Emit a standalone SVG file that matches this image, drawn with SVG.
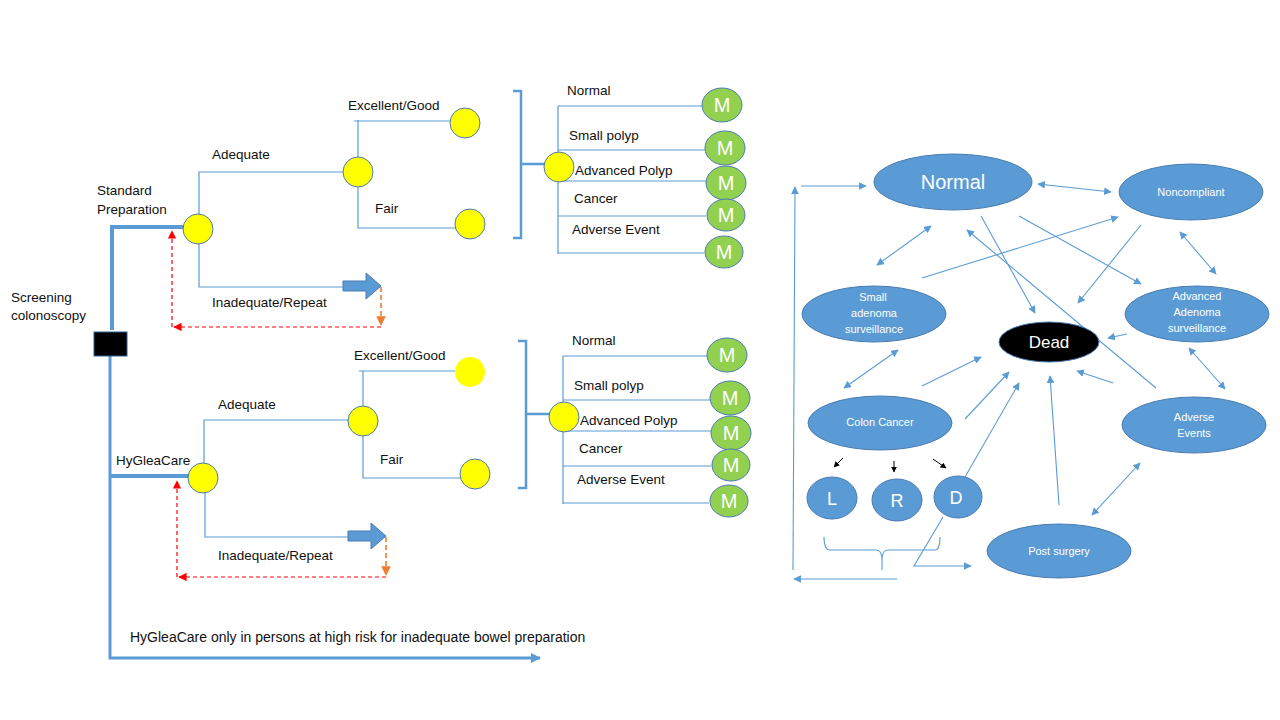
<svg xmlns="http://www.w3.org/2000/svg" width="1280" height="720" viewBox="0 0 1280 720">
<defs>
<style>
text{font-family:"Liberation Sans",Arial,sans-serif;font-size:13.5px;fill:#111}
.t{fill:none;stroke:#5b9bd5;stroke-width:1.2}
.k{fill:none;stroke:#5b9bd5;stroke-width:4}
.y{fill:#ffff00;stroke:#4a7bb0;stroke-width:1}
.m{fill:#92d050;stroke:#4a7bb0;stroke-width:1}
.mt{fill:#fff;font-size:20px;text-anchor:middle}
.e{fill:#5b9bd5;stroke:#4a7bb0;stroke-width:1}
.et{fill:#fff;font-size:11px;text-anchor:middle}
.c{fill:none;stroke:#5b9bd5;stroke-width:1.1}
.rd{fill:none;stroke:#ff0000;stroke-width:1.2;stroke-dasharray:4 3}
.od{fill:none;stroke:#ed7d31;stroke-width:1.6;stroke-dasharray:5 3}
</style>
<marker id="a" viewBox="0 0 10 10" refX="9" refY="5" markerWidth="7" markerHeight="7" orient="auto-start-reverse"><path d="M0,0L10,5L0,10z" fill="#5b9bd5"/></marker>
<marker id="big" viewBox="0 0 10 10" refX="9" refY="5" markerWidth="10" markerHeight="10" markerUnits="userSpaceOnUse" orient="auto"><path d="M0,0L10,5L0,10z" fill="#5b9bd5"/></marker>
<marker id="b" viewBox="0 0 10 10" refX="9" refY="5" markerWidth="6" markerHeight="6" orient="auto"><path d="M0,0L10,5L0,10z" fill="#000"/></marker>
<marker id="r" viewBox="0 0 10 10" refX="9" refY="5" markerWidth="7" markerHeight="7" orient="auto"><path d="M0,0L10,5L0,10z" fill="#ff0000"/></marker>
<marker id="o" viewBox="0 0 10 10" refX="9" refY="5" markerWidth="6" markerHeight="6" orient="auto"><path d="M0,0L10,5L0,10z" fill="#ed7d31"/></marker>
</defs>
<rect width="1280" height="720" fill="#fff"/>

<g id="tree-main">
<path class="k" d="M112,330V227H185"/>
<path fill="none" stroke="#5b9bd5" stroke-width="3" d="M110,356V658H540" marker-end="url(#big)"/>
<path class="k" d="M110,476H190"/>
<rect x="94" y="332" width="33" height="24" fill="#000" stroke="#2e5e8e"/>
<text x="11" y="302">Screening</text><text x="11" y="320">colonoscopy</text>
<text x="97" y="195">Standard</text><text x="97" y="214">Preparation</text>
<text x="116" y="465">HyGleaCare</text>
<text x="130" y="642" style="font-size:14px">HyGleaCare only in persons at high risk for inadequate bowel preparation</text>
</g>

<g id="tree-standard">
<path class="t" d="M199,214V172H344M358,120V228H456M354,121H450M199,244V287H343"/>
<path d="M343,281H366V273L381,286L366,299V291H343z" fill="#5b9bd5" stroke="#4a7bb0"/>
<path class="od" d="M381,287V325" marker-end="url(#o)"/>
<path class="rd" d="M381,327H174" marker-end="url(#r)"/>
<path class="rd" d="M172,327V231" marker-end="url(#r)"/>
<circle class="y" cx="198" cy="229" r="15"/>
<circle class="y" cx="358" cy="172" r="15"/>
<circle class="y" cx="465" cy="123" r="15"/>
<circle class="y" cx="470" cy="224" r="15"/>
<text x="212" y="159">Adequate</text>
<text x="212" y="307">Inadequate/Repeat</text>
<text x="348" y="110">Excellent/Good</text>
<text x="375" y="213">Fair</text>
</g>

<g id="tree-hyglea">
<path class="t" d="M204,463V420H349M363,371V478H462M359,371H455M205,493V537H348"/>
<path d="M348,531H371V523L386,536L371,549V541H348z" fill="#5b9bd5" stroke="#4a7bb0"/>
<path class="od" d="M386,537V575" marker-end="url(#o)"/>
<path class="rd" d="M386,577H179" marker-end="url(#r)"/>
<path class="rd" d="M177,577V481" marker-end="url(#r)"/>
<circle class="y" cx="203" cy="478" r="15"/>
<circle class="y" cx="363" cy="421" r="15"/>
<circle cx="470" cy="372" r="15" fill="#ffff00"/>
<circle class="y" cx="475" cy="474" r="15"/>
<text x="218" y="409">Adequate</text>
<text x="218" y="560">Inadequate/Repeat</text>
<text x="354" y="360">Excellent/Good</text>
<text x="380" y="464">Fair</text>
</g>

<g id="outcomes-standard">
<path fill="none" stroke="#5b9bd5" stroke-width="2.5" d="M513,91H521V238H513M521,164H545"/>
<path class="t" d="M558,106V254M558,106H703M558,150H705M558,181H706M558,216H706M558,253H704"/>
<circle class="y" cx="559" cy="167" r="15"/>
<ellipse class="m" cx="722" cy="105" rx="20" ry="17"/><text class="mt" x="722" y="112">M</text>
<ellipse class="m" cx="725" cy="148" rx="20" ry="17"/><text class="mt" x="725" y="155">M</text>
<ellipse class="m" cx="726" cy="183" rx="20" ry="17"/><text class="mt" x="726" y="190">M</text>
<ellipse class="m" cx="726" cy="215" rx="19" ry="16"/><text class="mt" x="726" y="222">M</text>
<ellipse class="m" cx="724" cy="252" rx="19" ry="16"/><text class="mt" x="724" y="259">M</text>
<text x="567" y="95">Normal</text>
<text x="569" y="140">Small polyp</text>
<text x="575" y="175">Advanced Polyp</text>
<text x="574" y="203">Cancer</text>
<text x="572" y="234">Adverse Event</text>
</g>

<g id="outcomes-hyglea">
<path fill="none" stroke="#5b9bd5" stroke-width="2.5" d="M518,341H526V488H518M526,414H550"/>
<path class="t" d="M563,356V504M563,356H708M563,400H710M563,431H711M563,466H711M563,503H709"/>
<circle class="y" cx="564" cy="417" r="15"/>
<ellipse class="m" cx="727" cy="355" rx="20" ry="17"/><text class="mt" x="727" y="362">M</text>
<ellipse class="m" cx="730" cy="398" rx="20" ry="17"/><text class="mt" x="730" y="405">M</text>
<ellipse class="m" cx="731" cy="433" rx="20" ry="17"/><text class="mt" x="731" y="440">M</text>
<ellipse class="m" cx="731" cy="465" rx="19" ry="16"/><text class="mt" x="731" y="472">M</text>
<ellipse class="m" cx="729" cy="501" rx="19" ry="16"/><text class="mt" x="729" y="508">M</text>
<text x="572" y="345">Normal</text>
<text x="574" y="390">Small polyp</text>
<text x="580" y="425">Advanced Polyp</text>
<text x="579" y="453">Cancer</text>
<text x="577" y="484">Adverse Event</text>
</g>

<g id="connectors">
<path class="c" d="M793,570L795,187" marker-end="url(#a)"/>
<path class="c" d="M801,186H866" marker-end="url(#a)"/>
<path class="c" d="M1038,184L1111,192" marker-start="url(#a)" marker-end="url(#a)"/>
<path class="c" d="M931,226L877,265" marker-start="url(#a)" marker-end="url(#a)"/>
<path class="c" d="M922,278L1118,217" marker-end="url(#a)"/>
<path class="c" d="M981,216L1035,313" marker-end="url(#a)"/>
<path class="c" d="M1156,388L967,230" marker-end="url(#a)"/>
<path class="c" d="M1019,216L1141,284" marker-end="url(#a)"/>
<path class="c" d="M1141,225L1078,303" marker-end="url(#a)"/>
<path class="c" d="M1180,232L1216,274" marker-start="url(#a)" marker-end="url(#a)"/>
<path class="c" d="M1127,334L1108,338" marker-end="url(#a)"/>
<path class="c" d="M898,350L844,388" marker-start="url(#a)" marker-end="url(#a)"/>
<path class="c" d="M922,386L981,357" marker-end="url(#a)"/>
<path class="c" d="M965,419L1009,372" marker-end="url(#a)"/>
<path class="c" d="M965,477L1019,383" marker-end="url(#a)"/>
<path class="c" d="M1059,505L1050,376" marker-end="url(#a)"/>
<path class="c" d="M1113,383L1077,371" marker-end="url(#a)"/>
<path class="c" d="M1189,348L1225,389" marker-start="url(#a)" marker-end="url(#a)"/>
<path class="c" d="M1092,515L1140,463" marker-start="url(#a)" marker-end="url(#a)"/>
<path fill="none" stroke="#000" stroke-width="1" d="M843,458L834,467" marker-end="url(#b)"/>
<path fill="none" stroke="#000" stroke-width="1" d="M894,461V472" marker-end="url(#b)"/>
<path fill="none" stroke="#000" stroke-width="1" d="M933,459L946,468" marker-end="url(#b)"/>
<path class="c" d="M824,537Q824,550 830,550H876Q882,550 882,560V570M882,560Q882,550 888,550H935Q940,550 940,537"/>
<path class="c" d="M943,517L914,566H971" marker-end="url(#a)"/>
<path class="c" d="M897,579H794" marker-end="url(#a)"/>
</g>

<g id="state-normal"><ellipse class="e" cx="953" cy="182" rx="79" ry="28"/><text class="et" x="953" y="189" style="font-size:20px">Normal</text></g>
<g id="state-noncompliant"><ellipse class="e" cx="1191" cy="192" rx="72" ry="28"/><text class="et" x="1191" y="196">Noncompliant</text></g>
<g id="state-small"><ellipse class="e" cx="874" cy="314" rx="72" ry="28"/><text class="et" x="873" y="301">Small</text><text class="et" x="874" y="317">adenoma</text><text class="et" x="874" y="333">surveillance</text></g>
<g id="state-advanced"><ellipse class="e" cx="1197" cy="314" rx="72" ry="28"/><text class="et" x="1197" y="300">Advanced</text><text class="et" x="1197" y="316">Adenoma</text><text class="et" x="1197" y="332">surveillance</text></g>
<g id="state-dead"><ellipse cx="1049" cy="342" rx="50" ry="20" fill="#000" stroke="#4a7bb0"/><text class="et" x="1049" y="348" style="font-size:17px">Dead</text></g>
<g id="state-cancer"><ellipse class="e" cx="880" cy="423" rx="72" ry="27"/><text class="et" x="880" y="426">Colon Cancer</text></g>
<g id="state-adverse"><ellipse class="e" cx="1194" cy="425" rx="72" ry="28"/><text class="et" x="1194" y="421">Adverse</text><text class="et" x="1194" y="437">Events</text></g>
<g id="state-L"><ellipse class="e" cx="832" cy="498" rx="25" ry="21"/><text class="et" x="832" y="505" style="font-size:18px">L</text></g>
<g id="state-R"><ellipse class="e" cx="897" cy="500" rx="25" ry="21"/><text class="et" x="897" y="507" style="font-size:18px">R</text></g>
<g id="state-D"><ellipse class="e" cx="958" cy="497" rx="24" ry="21"/><text class="et" x="956" y="504" style="font-size:18px">D</text></g>
<g id="state-post"><ellipse class="e" cx="1059" cy="551" rx="72" ry="27"/><text class="et" x="1059" y="555">Post surgery</text></g>
</svg>
